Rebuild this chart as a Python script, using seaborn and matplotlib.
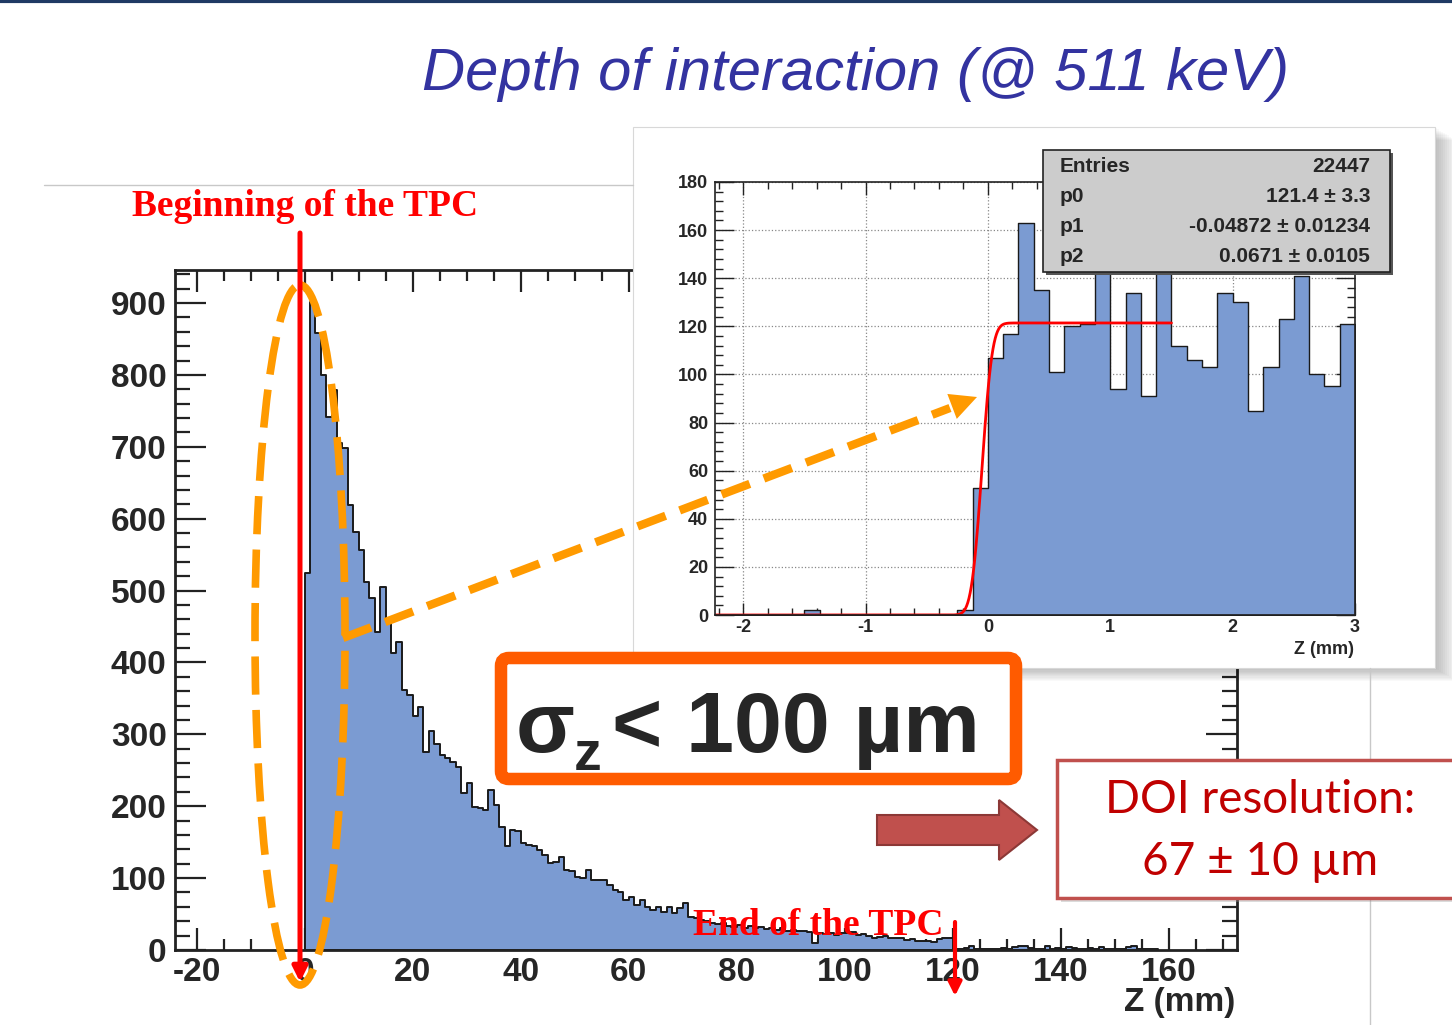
import math
import numpy as np
import pandas as pd
import matplotlib
matplotlib.use('Agg')
import matplotlib.pyplot as plt
import matplotlib.patches as mpatches
from matplotlib.ticker import MultipleLocator
import seaborn as sns

# main histogram, 1 mm bins starting at z = 0
z_counts = [524, 902, 858, 800, 742, 779, 705, 698, 619, 582,
            556, 512, 489, 443, 505, 459, 413, 429, 362, 355,
            325, 338, 276, 304, 287, 271, 267, 262, 255, 218,
            232, 199, 197, 195, 223, 202, 171, 144, 167, 165,
            149, 146, 144, 139, 132, 121, 123, 130, 111, 110,
            102, 100, 111, 97, 98, 97, 90, 83, 81, 70,
            74, 63, 70, 60, 56, 60, 53, 60, 51, 58,
            65, 46, 44, 42, 40, 38, 36, 37, 33, 32,
            35, 31, 33, 30, 32, 29, 31, 28, 30, 27,
            28, 26, 27, 25, 10, 24, 22, 23, 21, 24,
            23, 25, 21, 22, 20, 17, 18, 19, 17, 16,
            17, 14, 15, 13, 12, 12, 11, 15, 17, 16,
            2, 1, 3, 5, 2, 1, 2, 1, 2, 3,
            2, 4, 5, 6, 3, 2, 1, 5, 2, 3,
            2, 4, 3, 1, 2, 3, 1, 4, 2, 1,
            2, 1, 4, 5, 2, 1, 2, 1]
z_start = 0.0
z_bin = 1.0

# zoomed histogram around the entrance, 0.125 mm bins starting at -2.25 mm
zoom_counts = [0, 0, 0, 0, 0, 0, 2, 0, 0, 0,
               0, 0, 0, 0, 0, 0, 2, 53, 107, 117,
               163, 135, 101, 120, 121, 150, 94, 134, 91, 150,
               112, 106, 103, 134, 130, 85, 103, 123, 141, 100,
               95, 121]
zoom_start = -2.25
zoom_bin = 0.125

# fit (erf step) shown in the stats box
entries = 22447
fit_names = ['p0', 'p1', 'p2']
fit_values = [121.4, -0.04872, 0.0671]
fit_labels = ['121.4 \u00b1 3.3', '-0.04872 \u00b1 0.01234', '0.0671 \u00b1 0.0105']
fit_range = [-2.23, 1.5]

W, H = 1452, 1025
hist_blue = '#7b9bd2'
orange = '#ff9a00'

sns.set_style('ticks')
plt.rcParams['font.family'] = ['Liberation Sans', 'DejaVu Sans']
plt.rcParams['axes.unicode_minus'] = False

fig = plt.figure(figsize=(W / 100, H / 100), dpi=100)

# ---- main histogram
ax = fig.add_axes([175 / W, 1 - 950 / H, 1062 / W, 680 / H], zorder=0)
z_edges = z_start + z_bin * np.arange(len(z_counts) + 1)
main_df = pd.DataFrame({'z': 0.5 * (z_edges[:-1] + z_edges[1:]), 'n': z_counts})
sns.histplot(data=main_df, x='z', weights='n', bins=list(z_edges), element='step', fill=True,
             color=hist_blue, alpha=1, edgecolor='#1a1a1a', linewidth=1.4, ax=ax)
ax.set_xlim(-24.0, 172.6)
ax.set_ylim(0, 946)
ax.set_xlabel('')
ax.set_ylabel('')
ax.xaxis.set_major_locator(MultipleLocator(20))
ax.xaxis.set_minor_locator(MultipleLocator(5))
ax.yaxis.set_major_locator(MultipleLocator(100))
ax.yaxis.set_minor_locator(MultipleLocator(20))
ax.tick_params(which='both', direction='in', top=True, right=True, width=1.6, color='#222222')
ax.tick_params(axis='x', which='major', length=16, pad=5)
ax.tick_params(axis='x', which='minor', length=8)
ax.tick_params(axis='y', which='major', length=22, pad=6)
ax.tick_params(axis='y', which='minor', length=11)
for lab in ax.get_xticklabels() + ax.get_yticklabels():
    lab.set_fontsize(24)
    lab.set_fontweight('bold')
for sp in ax.spines.values():
    sp.set_linewidth(2)
    sp.set_color('#222222')

# ---- panel behind the inset (shadow + white card)
pan = fig.add_axes([0, 0, 1, 1], zorder=1)
pan.set_xlim(0, W)
pan.set_ylim(H, 0)
pan.axis('off')
pan.patch.set_alpha(0)
pan.plot([44, 633], [185, 185], color='#c8c8c8', lw=1)
pan.plot([1370, 1370], [668, H], color='#c8c8c8', lw=1)
pan.plot([0, W], [1, 1], color='#1f3a64', lw=3)
for s in range(2, 24, 2):
    pan.add_patch(mpatches.Rectangle((633 + s, 127 + s * 0.6), 802, 541, fc='black',
                                     ec='none', alpha=0.022))
pan.add_patch(mpatches.Rectangle((633, 127), 802, 541, fc='white', ec='#d8d8d8', lw=0.8))

# ---- inset histogram
ins = fig.add_axes([715 / W, 1 - 615 / H, 640 / W, 433 / H], zorder=2)
zoom_edges = zoom_start + zoom_bin * np.arange(len(zoom_counts) + 1)
zoom_df = pd.DataFrame({'z': 0.5 * (zoom_edges[:-1] + zoom_edges[1:]), 'n': zoom_counts})
sns.histplot(data=zoom_df, x='z', weights='n', bins=list(zoom_edges), element='step', fill=True,
             color=hist_blue, alpha=1, edgecolor='#1a1a1a', linewidth=1.0, ax=ins)
fx = np.linspace(fit_range[0], fit_range[1], 400)
p0, p1, p2 = fit_values
fy = [0.5 * p0 * (1 + math.erf((v - p1) / (math.sqrt(2) * p2))) for v in fx]
ins.plot(fx, fy, color='red', lw=2)
ins.set_xlim(-2.23, 3.0)
ins.set_ylim(0, 180)
ins.set_xlabel('')
ins.set_ylabel('')
ins.set_axisbelow(True)
ins.grid(True, which='major', ls=':', color='#888888', lw=0.9)
ins.xaxis.set_major_locator(MultipleLocator(1))
ins.xaxis.set_minor_locator(MultipleLocator(0.2))
ins.yaxis.set_major_locator(MultipleLocator(20))
ins.yaxis.set_minor_locator(MultipleLocator(4))
ins.tick_params(which='both', direction='in', top=True, right=True, width=1.0, color='#222222')
ins.tick_params(axis='x', which='major', length=9, pad=3)
ins.tick_params(axis='x', which='minor', length=5)
ins.tick_params(axis='y', which='major', length=14, pad=5)
ins.tick_params(axis='y', which='minor', length=6)
for lab in ins.get_xticklabels() + ins.get_yticklabels():
    lab.set_fontsize(13)
    lab.set_fontweight('bold')
for sp in ins.spines.values():
    sp.set_linewidth(1.2)
    sp.set_color('#222222')

# ---- overlay: stats box, annotations, slide text
ov = fig.add_axes([0, 0, 1, 1], zorder=5)
ov.set_xlim(0, W)
ov.set_ylim(H, 0)
ov.axis('off')
ov.patch.set_alpha(0)

ov.add_patch(mpatches.Rectangle((1046, 153), 347, 122, fc='#555555', ec='none'))
ov.add_patch(mpatches.Rectangle((1043, 150), 347, 122, fc='#cccccc', ec='#222222', lw=1.2))
rows = [('Entries', str(entries))] + list(zip(fit_names, fit_labels))
for i, (name, val) in enumerate(rows):
    y = 167 + 30 * i
    ov.text(1060, y, name, ha='left', va='center', fontsize=15, fontweight='bold')
    ov.text(1370, y, val, ha='right', va='center', fontsize=15, fontweight='bold')
ov.text(1354, 650, 'Z (mm)', ha='right', va='center', fontsize=13, fontweight='bold')

ov.text(855, 90, 'Depth of interaction (@ 511 keV)', ha='center', va='baseline',
        fontsize=43, style='italic', color='#3333a0')

ov.text(1235, 1003, 'Z (mm)', ha='right', va='center', fontsize=24, fontweight='bold')

# beginning / end of the TPC markers
ov.text(305, 216, 'Beginning of the TPC', ha='center', va='baseline', fontsize=27,
        fontweight='bold', color='red', family=['Liberation Serif', 'DejaVu Serif'])
ov.annotate('', xy=(300, 982), xytext=(300, 233),
            arrowprops=dict(arrowstyle='-|>', color='red', lw=3.6, mutation_scale=22,
                            shrinkA=0, shrinkB=0))
ov.text(818, 935, 'End of the TPC', ha='center', va='baseline', fontsize=27,
        fontweight='bold', color='red', family=['Liberation Serif', 'DejaVu Serif'])
ov.annotate('', xy=(955, 996), xytext=(955, 922),
            arrowprops=dict(arrowstyle='-|>', color='red', lw=3, mutation_scale=20,
                            shrinkA=0, shrinkB=0))

# dashed ellipse around the entrance peak and arrow to the inset
ov.add_patch(mpatches.Ellipse((300, 635), 90, 700, fill=False, ec=orange, lw=5.5,
                              ls=(0, (5, 2))))
ov.plot([343, 950], [638, 408], color=orange, lw=6, ls=(0, (3.6, 1.8)),
        solid_capstyle='butt')
ov.annotate('', xy=(977, 397), xytext=(940, 411),
            arrowprops=dict(arrowstyle='-|>', color=orange, lw=0, mutation_scale=48,
                            shrinkA=0, shrinkB=0))

# sigma_z box
ov.add_patch(mpatches.FancyBboxPatch((501, 658), 515, 121, boxstyle='round,pad=0,rounding_size=8',
                                     fc='white', ec='#ff5b00', lw=9))
ov.text(516, 752, '\u03c3', ha='left', va='baseline', fontsize=62, fontweight='bold')
ov.text(574, 770, 'z', ha='left', va='baseline', fontsize=40, fontweight='bold')
ov.text(612, 752, '< 100 \u00b5m', ha='left', va='baseline', fontsize=62, fontweight='bold')

# block arrow and DOI result box
ov.add_patch(mpatches.FancyArrow(877, 830, 160, 0, width=30, head_width=60, head_length=38,
                                 length_includes_head=True, fc='#c0504d', ec='#8c3836', lw=1.5))
ov.add_patch(mpatches.Rectangle((1061, 764), 400, 138, fc='#999999', ec='none', alpha=0.35))
ov.add_patch(mpatches.Rectangle((1057, 760), 400, 138, fc='white', ec='#c0504d', lw=2.5))
ov.text(1260, 800, 'DOI resolution:', ha='center', va='center', fontsize=33,
        color='#c00000', family=['Lato', 'DejaVu Sans'])
ov.text(1260, 862, '67 \u00b1 10 \u00b5m', ha='center', va='center', fontsize=33,
        color='#c00000', family=['Lato', 'DejaVu Sans'])

fig.savefig('out.png', dpi=100)
